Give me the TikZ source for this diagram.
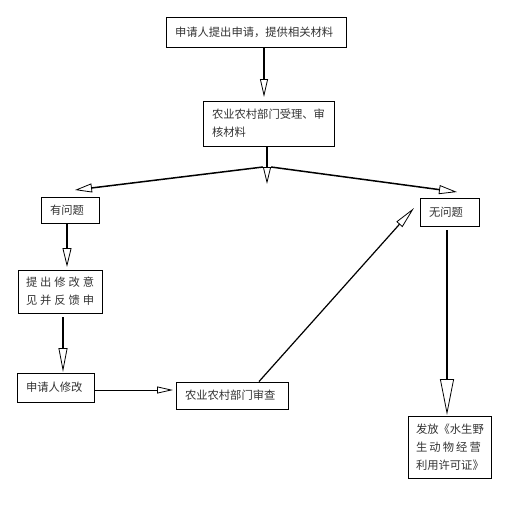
\documentclass[tikz,border=0pt]{standalone}
\usepackage{fontspec}
\newfontfamily\cjk{Noto Sans CJK SC}
\usetikzlibrary{arrows.meta}
\newcommand\gp[1]{\kern#1pt\relax}
\begin{document}
\begin{tikzpicture}[x=1pt,y=-1pt,
  box/.style={draw,line width=0.9pt,inner xsep=9pt,inner ysep=0pt,align=left,
    font=\cjk\fontsize{11.3}{18}\selectfont,text=black!80},
  con/.style={line width=#1},
  tip/.style 2 args={-{Triangle[open,length=#1pt,width=#2pt,line width=0.8pt]}}
]
\useasboundingbox[fill=white] (0,0) rectangle (517,506);
\node[box,text width=162pt,minimum height=30pt] (b1) at (256,32) {申请人提出申请，提供相关材料};
\node[box,text width=113pt,minimum height=45pt] (b2) at (268.5,123.5) {农业农村部门受理、审\\核材料};
\node[box,text width=40pt,minimum height=26pt] (p1) at (70,210) {有问题};
\node[box,text width=68pt,minimum height=43pt,inner xsep=8pt] (p2) at (60,291.5) {提\gp{2.9}出\gp{2.9}修\gp{2.9}改\gp{2.9}意\\见\gp{2.9}并\gp{2.9}反\gp{2.9}馈\gp{2.9}申};
\node[box,text width=59pt,minimum height=29pt] (p3) at (55.5,387.5) {申请人修改};
\node[box,text width=94pt,minimum height=27pt] (p4) at (232,395.5) {农业农村部门审查};
\node[box,text width=41pt,minimum height=28pt] (q1) at (449.5,212) {无问题};
\node[box,text width=67pt,minimum height=62pt,inner xsep=8pt] (q2) at (449.5,447) {发放《水生野\\生\gp{2.1}动\gp{2.1}物\gp{2.1}经\gp{2.1}营\\利用许可证》};
\coordinate (a1) at (264,97);
\draw[con=2pt,tip={18}{8}] (b1.south -| a1) -- (a1);
\coordinate (a2) at (267,184);
\draw[con=2pt,tip={17}{8}] (b2.south -| a2) -- (a2);
\coordinate (sl) at (263,167);
\coordinate (sr) at (271,167);
\coordinate (tl) at (75,190);
\coordinate (tr) at (457,192);
\draw[con=1.5pt,tip={17}{9}] (sl) -- (tl);
\draw[con=1.5pt,tip={18}{9}] (sr) -- (tr);
\coordinate (a3) at (67,267);
\draw[con=2pt,tip={19}{9}] (p1.south -| a3) -- (a3);
\coordinate (a4) at (63,372);
\draw[con=2.5pt,tip={24}{9}] ([yshift=-4pt]p2.south -| a4) -- (a4);
\coordinate (a5) at (173,390);
\draw[con=1pt,tip={16}{7}] (p3.east |- a5) -- (a5);
\coordinate (a6) at (414,208);
\draw[con=1.2pt,tip={22}{8}] ([xshift=27pt]p4.north) -- (a6);
\coordinate (a7) at (447,415);
\draw[con=2pt,tip={36}{14}] ([yshift=-4pt]q1.south -| a7) -- (a7);
\end{tikzpicture}
\end{document}
